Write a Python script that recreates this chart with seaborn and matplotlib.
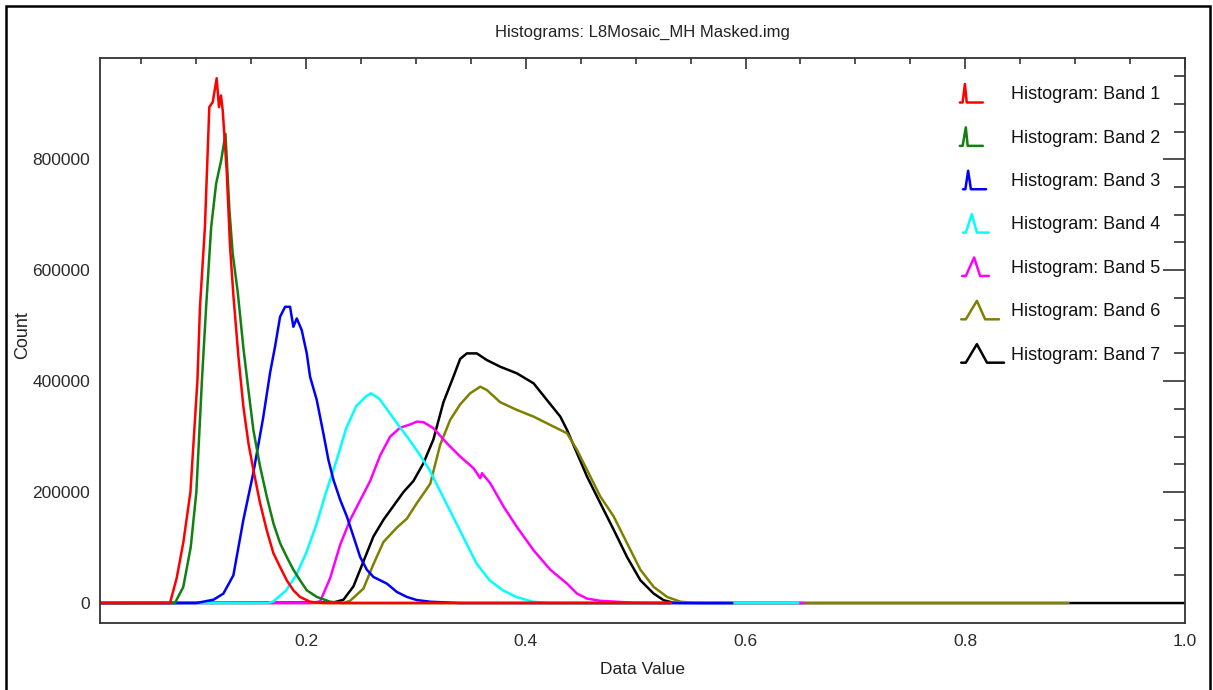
import numpy as np
import pandas as pd
import matplotlib
matplotlib.use("Agg")
import matplotlib.pyplot as plt
import seaborn as sns
from matplotlib.legend_handler import HandlerBase
from matplotlib.lines import Line2D
from matplotlib.patches import Rectangle
from matplotlib.ticker import MultipleLocator, StrMethodFormatter

# ---- histogram curves (data value, pixel count) ----
band1_x = [0.0124, 0.0761, 0.0822, 0.0883, 0.0947, 0.1011, 0.1034, 0.1079, 0.1119, 0.1150,
           0.1186, 0.1207, 0.1225, 0.1241, 0.1277, 0.1308, 0.1338, 0.1384, 0.1429, 0.1475,
           0.1520, 0.1581, 0.1642, 0.1702, 0.1763, 0.1824, 0.1884, 0.1945, 0.2036, 0.2157, 0.532]
band1_y = [0, 0, 45000, 110000, 200000, 402000, 534000, 678000, 894000, 903000,
           946000, 894000, 915000, 888000, 780000, 642000, 555000, 444000, 354000, 288000,
           240000, 180000, 131000, 90000, 65000, 41000, 23000, 11000, 2300, 0, 0]

band2_x = [0.0124, 0.0806, 0.0882, 0.0950, 0.1001, 0.1052, 0.1090, 0.1136, 0.1181, 0.1227,
           0.1266, 0.1302, 0.1332, 0.1378, 0.1429, 0.1475, 0.1520, 0.1581, 0.1642, 0.1702,
           0.1763, 0.1824, 0.1884, 0.1945, 0.2006, 0.2097, 0.2219, 0.2340, 0.530]
band2_y = [0, 0, 29000, 101000, 200000, 402000, 534000, 678000, 756000, 798000,
           846000, 708000, 630000, 560000, 460000, 384000, 312000, 246000, 192000, 144000,
           108000, 83000, 60000, 41000, 23000, 11000, 2300, 0, 0]

band3_x = [0.0124, 0.1000, 0.1157, 0.1247, 0.1338, 0.1429, 0.1520, 0.1610, 0.1672, 0.1717,
           0.1763, 0.1809, 0.1854, 0.1869, 0.1884, 0.1915, 0.1960, 0.2006, 0.2036, 0.2097,
           0.2157, 0.2203, 0.2249, 0.2310, 0.2371, 0.2431, 0.2492, 0.2553, 0.2613, 0.2674,
           0.2735, 0.2826, 0.2917, 0.3008, 0.3130, 0.3403, 0.588]
band3_y = [0, 0, 6000, 17000, 50000, 150000, 235000, 335000, 415000, 462000,
           516000, 534000, 534000, 516000, 498000, 513000, 492000, 450000, 408000, 366000,
           306000, 258000, 222000, 186000, 156000, 120000, 83000, 60000, 47000, 41000,
           35000, 20000, 11000, 5400, 2300, 0, 0]

band4_x = [0.0124, 0.1654, 0.1702, 0.1815, 0.1909, 0.2000, 0.2091, 0.2182, 0.2274, 0.2365,
           0.2456, 0.2547, 0.2592, 0.2668, 0.2759, 0.2850, 0.2941, 0.3032, 0.3123, 0.3184,
           0.3275, 0.3367, 0.3458, 0.3549, 0.3670, 0.3791, 0.3913, 0.4064, 0.4216, 0.648]
band4_y = [0, 0, 3000, 22000, 50000, 90000, 140000, 200000, 255000, 315000,
           355000, 373000, 378000, 368000, 343000, 318000, 294000, 268000, 240000, 216000,
           180000, 144000, 108000, 72000, 41000, 23000, 11000, 2300, 0, 0]

band5_x = [0.0124, 0.2046, 0.2128, 0.2219, 0.2310, 0.2401, 0.2492, 0.2583, 0.2674, 0.2765,
           0.2856, 0.2948, 0.3009, 0.3069, 0.3160, 0.3282, 0.3403, 0.3524, 0.3585, 0.3601,
           0.3676, 0.3797, 0.3919, 0.4071, 0.4223, 0.4375, 0.4466, 0.4557, 0.4678, 0.4981,
           0.5225, 0.653]
band5_y = [0, 0, 3000, 45000, 105000, 150000, 185000, 220000, 266000, 300000,
           316000, 322000, 327000, 326000, 315000, 288000, 264000, 243000, 225000, 234000,
           216000, 174000, 137000, 95000, 60000, 35000, 17000, 8000, 4000, 500,
           0, 0]

band6_x = [0.0124, 0.2340, 0.2400, 0.2522, 0.2613, 0.2704, 0.2826, 0.2917, 0.3008, 0.3130,
           0.3220, 0.3311, 0.3402, 0.3493, 0.3585, 0.3645, 0.3767, 0.3919, 0.4071, 0.4253,
           0.4375, 0.4466, 0.4557, 0.4678, 0.4800, 0.4921, 0.5043, 0.5164, 0.5286, 0.5407,
           0.5529, 0.5650, 0.894]
band6_y = [0, 0, 4000, 26000, 70000, 110000, 136000, 152000, 180000, 215000,
           285000, 330000, 358000, 378000, 390000, 384000, 362000, 348000, 336000, 318000,
           306000, 276000, 240000, 192000, 156000, 108000, 60000, 29000, 11000, 2300,
           500, 0, 0]

band7_x = [0.0124, 0.2250, 0.2340, 0.2431, 0.2522, 0.2613, 0.2704, 0.2795, 0.2886, 0.2977,
           0.3068, 0.3159, 0.3250, 0.3341, 0.3402, 0.3463, 0.3554, 0.3645, 0.3767, 0.3919,
           0.4071, 0.4192, 0.4314, 0.4375, 0.4466, 0.4557, 0.4678, 0.4800, 0.4921, 0.5043,
           0.5164, 0.5255, 0.5346, 0.5500, 1.0]
band7_y = [0, 1000, 6000, 30000, 75000, 120000, 150000, 175000, 200000, 220000,
           252000, 295000, 362000, 408000, 440000, 450000, 450000, 438000, 426000, 414000,
           396000, 366000, 336000, 312000, 270000, 228000, 180000, 132000, 83000, 41000,
           17000, 5000, 500, 0, 0]

band_labels = ["Histogram: Band 1", "Histogram: Band 2", "Histogram: Band 3",
               "Histogram: Band 4", "Histogram: Band 5", "Histogram: Band 6",
               "Histogram: Band 7"]
band_colors = ["#ff0000", "#108010", "#0000ff", "#00ffff", "#ff00ff", "#808000", "#000000"]

x_ticks = [0.2, 0.4, 0.6, 0.8, 1.0]
y_ticks = [0, 200000, 400000, 600000, 800000]

title_text = "Histograms: L8Mosaic_MH Masked.img"
x_label = "Data Value"
y_label = "Count"

# ---- long-form table for seaborn ----
xs = [band1_x, band2_x, band3_x, band4_x, band5_x, band6_x, band7_x]
ys = [band1_y, band2_y, band3_y, band4_y, band5_y, band6_y, band7_y]
frames = []
for lab, bx, by in zip(band_labels, xs, ys):
    frames.append(pd.DataFrame({"value": bx, "count": by, "band": lab}))
df = pd.concat(frames, ignore_index=True)

sns.set_style("white")
plt.rcParams["font.family"] = ["Liberation Sans", "DejaVu Sans"]

W, H = 1213, 690
fig = plt.figure(figsize=(W / 100, H / 100), dpi=100)
ax = fig.add_axes([100 / W, 1 - 623 / H, 1085 / W, 565 / H])

palette = dict(zip(band_labels, band_colors))
LW = 1.8
# band 7 underneath, band 1 on top
sns.lineplot(data=df, x="value", y="count", hue="band", hue_order=band_labels[::-1],
             palette=palette, estimator=None, sort=False, legend=False,
             linewidth=LW, ax=ax)

ax.set_xlim(0.0124, 1.0)
ax.set_ylim(-36000, 982500)
ax.set_xticks(x_ticks)
ax.set_yticks(y_ticks)
ax.xaxis.set_minor_locator(MultipleLocator(0.05))
ax.yaxis.set_minor_locator(MultipleLocator(50000))
ax.yaxis.set_major_formatter(StrMethodFormatter("{x:.0f}"))
ax.xaxis.set_major_formatter(StrMethodFormatter("{x:.1f}"))

spine_col = "#333333"
for s in ax.spines.values():
    s.set_color(spine_col)
    s.set_linewidth(1.3)

ax.tick_params(axis="both", which="both", direction="in", top=True, right=True,
               color=spine_col, width=1.2, labelcolor="#2a2a2a", labelsize=12.5)
ax.tick_params(axis="x", which="major", length=8, pad=8)
ax.tick_params(axis="x", which="minor", length=4)
ax.tick_params(axis="y", which="major", length=16, pad=7)
ax.tick_params(axis="y", which="minor", length=8)

ax.set_xlabel(x_label, fontsize=12.5, color="#222222")
ax.set_ylabel(y_label, fontsize=13, color="#222222")
ax.xaxis.set_label_coords(0.5, (623 - 670) / 565)
ax.xaxis.label.set_va("center")
ax.yaxis.set_label_coords((23 - 100) / 1085, (623 - 335) / 565)
ax.yaxis.label.set_va("center")

fig.text(642.5 / W, 1 - 32 / H, title_text, ha="center", va="center",
         fontsize=12, color="#222222")


# ---- legend with small peak glyphs ----
class PeakGlyph(HandlerBase):
    def __init__(self, shape):
        super().__init__()
        self.shape = shape

    def create_artists(self, legend, orig_handle, xdescent, ydescent,
                       width, height, fontsize, trans):
        s, r, p, f, e = self.shape
        gx = np.array([s, r, p, f, e]) * width - xdescent
        gy = np.array([0.0, 0.0, 1.0, 0.0, 0.0]) * height - ydescent
        ln = Line2D(gx, gy, color=orig_handle.get_color(),
                    linewidth=orig_handle.get_linewidth(),
                    solid_joinstyle="round")
        ln.set_transform(trans)
        return [ln]


glyph_shapes = [
    (0.04, 0.10, 0.15, 0.19, 0.54),
    (0.04, 0.10, 0.17, 0.21, 0.54),
    (0.11, 0.16, 0.22, 0.28, 0.61),
    (0.11, 0.17, 0.30, 0.41, 0.67),
    (0.09, 0.17, 0.35, 0.48, 0.67),
    (0.07, 0.17, 0.41, 0.59, 0.89),
    (0.07, 0.17, 0.41, 0.63, 1.00),
]
handles = [Line2D([], [], color=c, linewidth=LW) for c in band_colors]
handler_map = {h: PeakGlyph(sh) for h, sh in zip(handles, glyph_shapes)}
leg = fig.legend(handles, band_labels, handler_map=handler_map,
                 loc="upper left", bbox_to_anchor=(958 / W, 1 - 84 / H),
                 frameon=False, fontsize=13, handlelength=2.55, handleheight=1.2,
                 handletextpad=0.39, labelspacing=1.33, borderpad=0, borderaxespad=0)
for t in leg.get_texts():
    t.set_color("#111111")

# outer frame of the window
fig.patches.append(Rectangle((6 / W, -0.02), (1210 - 6) / W, 1 - 6 / H + 0.02,
                             transform=fig.transFigure, fill=False,
                             edgecolor="black", linewidth=1.8))

fig.savefig("out.png", dpi=100)
